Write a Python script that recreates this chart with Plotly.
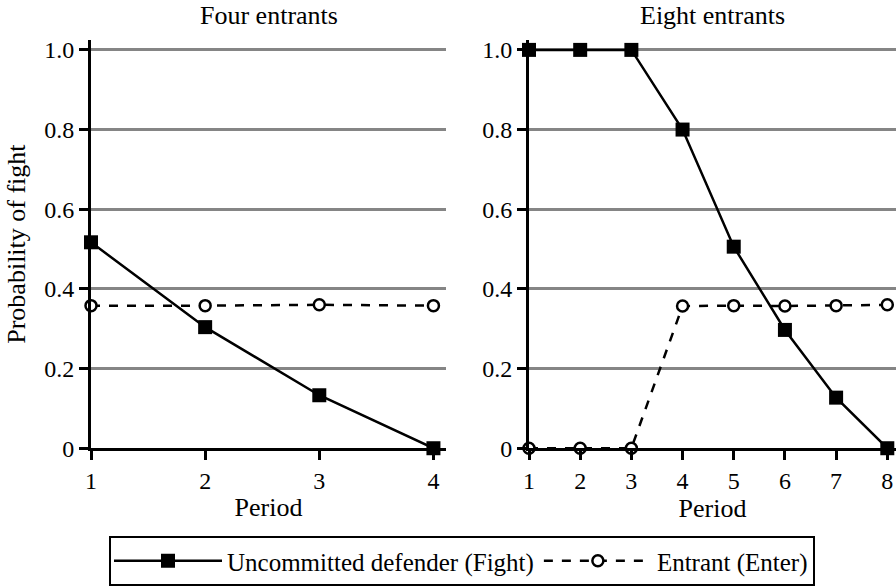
import plotly.graph_objects as go
from plotly.subplots import make_subplots

# ---- data ----
periods_four = [1, 2, 3, 4]
fight_four = [0.517, 0.304, 0.133, 0.0]
enter_four = [0.358, 0.358, 0.36, 0.358]

periods_eight = [1, 2, 3, 4, 5, 6, 7, 8]
fight_eight = [1.0, 1.0, 1.0, 0.80, 0.506, 0.297, 0.127, 0.0]
enter_eight = [0.0, 0.0, 0.0, 0.357, 0.358, 0.357, 0.358, 0.36]

y_tickvals = [0, 0.2, 0.4, 0.6, 0.8, 1.0]
y_ticktext = ["0", "0.2", "0.4", "0.6", "0.8", "1.0"]
panel_titles = ["Four entrants", "Eight entrants"]
series_names = ["Uncommitted defender (Fight)", "Entrant (Enter)"]

FONT = "Liberation Serif"
W, H = 896, 586

fig = make_subplots(rows=1, cols=2, subplot_titles=panel_titles)

fight_style = dict(mode="lines+markers", line=dict(color="black", width=2.5),
                   marker=dict(symbol="square", size=14, color="black"),
                   cliponaxis=False)
enter_style = dict(mode="lines+markers", line=dict(color="black", width=2.5, dash="dash"),
                   marker=dict(symbol="circle", size=11, color="white",
                               line=dict(color="black", width=2.5)),
                   cliponaxis=False)

fig.add_trace(go.Scatter(x=periods_four, y=fight_four, name=series_names[0],
                         legendgroup="f", **fight_style), row=1, col=1)
fig.add_trace(go.Scatter(x=periods_four, y=enter_four, name=series_names[1],
                         legendgroup="e", **enter_style), row=1, col=1)
fig.add_trace(go.Scatter(x=periods_eight, y=fight_eight, name=series_names[0],
                         legendgroup="f", showlegend=False, **fight_style), row=1, col=2)
fig.add_trace(go.Scatter(x=periods_eight, y=enter_eight, name=series_names[1],
                         legendgroup="e", showlegend=False, **enter_style), row=1, col=2)

ytop = (H - 40) / H
ybot = (H - 449) / H

xaxis_common = dict(showgrid=False, zeroline=False, showline=True, linecolor="black",
                    linewidth=3, ticks="outside", ticklen=9, tickwidth=3,
                    tickcolor="black", tickfont=dict(size=24, family=FONT, color="black"),
                    title=dict(text="Period", font=dict(size=26, family=FONT, color="black")),
                    dtick=1, automargin=False)
yaxis_common = dict(range=[0, 1.025], tickvals=y_tickvals, ticktext=y_ticktext,
                    showgrid=True, gridcolor="#858585", gridwidth=2.5, zeroline=False,
                    showline=True, linecolor="black", linewidth=3, ticks="outside",
                    ticklen=9, tickwidth=3, tickcolor="black",
                    tickfont=dict(size=24, family=FONT, color="black"),
                    domain=[ybot, ytop], automargin=False)

fig.update_xaxes(**xaxis_common)
fig.update_yaxes(**yaxis_common)
fig.update_xaxes(range=[1, 4.11], domain=[91 / W, 446 / W], title_standoff=5, row=1, col=1)
fig.update_xaxes(range=[1, 8.17], domain=[529 / W, 1.0], title_standoff=0, row=1, col=2)
fig.update_yaxes(title=dict(text="Probability of fight",
                            font=dict(size=26, family=FONT, color="black"), standoff=12),
                 row=1, col=1)

# subplot titles
for ann, xc in zip(fig.layout.annotations, [(91 + 446) / 2 / W, (529 + 896) / 2 / W]):
    ann.update(x=xc, y=(H - 16) / H, yanchor="middle", xanchor="center",
               font=dict(size=26, family=FONT, color="black"))

fig.update_layout(
    width=W, height=H,
    margin=dict(l=0, r=0, t=0, b=0),
    plot_bgcolor="white", paper_bgcolor="white",
    font=dict(family=FONT, color="black", size=24),
    showlegend=True,
    legend=dict(orientation="h", x=462 / W, y=(H - 562) / H, xanchor="center",
                yanchor="middle", bordercolor="black", borderwidth=2,
                font=dict(size=25, family=FONT, color="black"),
                itemwidth=108, tracegroupgap=0),
)

fig.write_html("out.html")
